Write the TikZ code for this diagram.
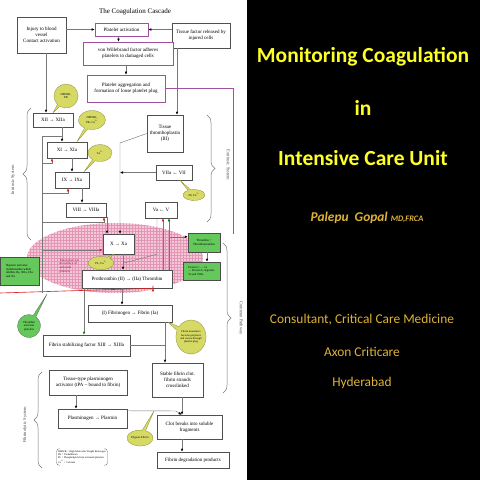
\documentclass[tikz,border=0pt]{standalone}
\usepackage{fontspec}
\setmainfont{Liberation Serif}
\newfontfamily\calib{Carlito}
\usetikzlibrary{shapes.callouts,shapes.geometric,arrows.meta,calc,decorations.pathreplacing}
\definecolor{boxline}{RGB}{80,80,80}
\definecolor{purp}{RGB}{160,80,160}
\definecolor{callfill}{RGB}{214,218,100}
\definecolor{callline}{RGB}{140,140,60}
\definecolor{grnfill}{RGB}{100,200,90}
\definecolor{pinkfill}{RGB}{245,200,215}
\definecolor{pinkgrid}{RGB}{228,150,182}
\definecolor{titleyel}{RGB}{255,255,40}
\definecolor{gold}{RGB}{222,178,58}
\definecolor{linegray}{RGB}{120,120,120}
\definecolor{redmark}{RGB}{220,30,30}
\definecolor{pinktext}{RGB}{140,30,60}
\newcommand{\caion}{Ca\textsuperscript{2+}}
\begin{document}
\begin{tikzpicture}[x=1pt,y=-1pt,
 cbox/.style={draw=boxline, line width=0.5pt, fill=white, inner sep=0.5pt, align=center, font=\fontsize{5}{5.8}\selectfont},
 pbox/.style={cbox, draw=purp, line width=0.7pt},
 gbox/.style={cbox, fill=grnfill, draw=black!70, align=left, font=\fontsize{3.1}{3.7}\selectfont},
 call/.style={ellipse callout, fill=callfill, draw=callline, line width=0.3pt, inner sep=0pt, align=center, font=\fontsize{3}{3.5}\selectfont},
 conn/.style={draw=linegray, line width=0.45pt},
 arr/.style={conn, -{Latex[length=3pt,width=2.6pt,color=black]}},
 redarr/.style={conn, -{Latex[length=3pt,width=2.6pt,color=redmark]}},
 grnarr/.style={conn, -{Latex[length=3pt,width=2.6pt,color=green!50!black]}},
 bracestyle/.style={draw=linegray, line width=0.5pt, decorate, decoration={brace, amplitude=8pt}},
 sysl/.style={font=\fontsize{4.5}{5}\selectfont, text=black!70},
 ]
\useasboundingbox (0,0) rectangle (480,480);
\fill[white] (0,0) rectangle (480,480);
\fill[black] (247,0) rectangle (480,480);

% pink platelet surface
\begin{scope}
\clip (115,258) ellipse [x radius=88, y radius=35];
\fill[pinkfill] (26,222) rectangle (204,294);
\draw[pinkgrid, line width=0.25pt, step=3pt] (24,220) grid (206,296);
\end{scope}

\node[font=\fontsize{7}{8}\selectfont] (title) at (135,12) {The Coagulation Cascade};

% boxes
\node[cbox, minimum width=49pt, minimum height=36pt] (inj) at (41.5,35) {Injury to blood\\vessel\\Contact activation};
\node[pbox, minimum width=53pt, minimum height=13pt] (plt) at (121.5,29.5) {Platelet activation};
\node[cbox, minimum width=58pt, minimum height=25pt] (tf) at (201,35.5) {Tissue factor released by\\injured cells};
\node[pbox, minimum width=90pt, minimum height=23pt] (vwf) at (128,53.5) {von Willebrand factor adheres\\platelets to damaged cells};
\node[pbox, minimum width=78pt, minimum height=27pt] (agg) at (126,88.5) {Platelet aggregation and\\formation of loose platelet plug};
\node[cbox, minimum width=36pt, minimum height=37pt] (tt) at (165,133.5) {Tissue\\thromboplastin\\(III)};
\node[cbox, minimum width=40pt, minimum height=14pt] (xii) at (53,120) {XII → XIIa};
\node[cbox, minimum width=40pt, minimum height=16pt] (xi) at (67,150) {XI → XIa};
\node[cbox, minimum width=34pt, minimum height=16pt] (ix) at (72,180) {IX → IXa};
\node[cbox, minimum width=40pt, minimum height=14pt] (viii) at (86,210) {VIII → VIIIa};
\node[cbox, minimum width=36pt, minimum height=15pt] (viia) at (174,172.5) {VIIa ← VII};
\node[cbox, minimum width=32pt, minimum height=16pt] (va) at (161,210) {Va ← V};
\node[cbox, minimum width=31pt, minimum height=20pt] (x) at (118.5,244) {X → Xa};
\node[cbox, minimum width=90pt, minimum height=18pt] (pro) at (127,279) {Prothrombin (II) → (IIa) Thrombin};
\node[cbox, minimum width=84pt, minimum height=17pt] (fib) at (130,313.5) {(I) Fibrinogen → Fibrin (Ia)};
\node[cbox, minimum width=87pt, minimum height=21pt] (xiii) at (86.5,345.5) {Fibrin stabilizing factor XIII → XIIIa};
\node[cbox, minimum width=51pt, minimum height=34pt] (stab) at (177.5,380) {Stable fibrin clot.\\fibrin strands\\crosslinked};
\node[cbox, minimum width=78pt, minimum height=25pt] (tpa) at (88,382.5) {Tissue-type plasminogen\\activator (tPA – bound to fibrin)};
\node[cbox, minimum width=69pt, minimum height=19pt] (plm) at (92.5,418.5) {Plasminogen → Plasmin};
\node[cbox, minimum width=65pt, minimum height=24pt] (cb) at (189.5,427) {Clot breaks into soluble\\fragments};
\node[cbox, minimum width=72pt, minimum height=16pt] (fdp) at (193,460) {Fibrin degradation products};
\node[gbox, minimum width=39pt, minimum height=28pt] (hep) at (19.5,271) {Heparin activates\\Antithrombin which\\inhibits IIa, XIIa, IXa\\and Xa};
\node[gbox, align=center, minimum width=32pt, minimum height=19pt] (tm) at (204,242.5) {Thrombin +\\Thrombomodulin};
\node[gbox, minimum width=37pt, minimum height=18pt, font=\fontsize{2.9}{3.5}\selectfont] (pc) at (201.5,271) {Protein C → Ca\\→ Protein S, degrades\\Va and VIIIa};

\node[align=left, text=pinktext, font=\fontsize{3.2}{3.8}\selectfont] (surf) at (69,266) {Takes place on\\the surface of\\activated\\platelets};

% connectors
\draw[arr] ($(inj.south)+(4.5,0)$) coordinate (p1) -- (p1 |- xii.north);
\draw[arr] (inj.east |- plt.west) -- (plt.west);
\draw[arr] (tf.west |- plt.east) -- (plt.east);
\draw[arr] ($(plt.south)+(-3,0)$) coordinate (p2) -- (p2 |- vwf.north);
\draw[arr] ($(vwf.south)+(-2,0)$) coordinate (p3) -- (p3 |- agg.north);
\draw[conn, draw=purp] (agg.east) -- (233,88.5) coordinate (pa) -- (pa |- x.north);
\draw[arr] ($(tf.south)+(-24,0)$) coordinate (p4) -- (p4 |- tt.north);
\draw[arr] (tt.west) -- (120,143) coordinate (tl) -- (tl |- x.north);
\draw[arr] (viia.west) -- (viia.west -| tl);
\draw[arr] ($(xii.south)+(9,0)$) coordinate (p5) -- (p5 |- xi.north);
\draw[arr] ($(xi.south)+(5,0)$) coordinate (p6) -- (p6 |- ix.north);
\draw[arr] ($(ix.south)+(10,0)$) coordinate (p7) -- (p7 |- viii.north);
\draw[arr] ($(viii.south)+(21,0)$) coordinate (p8) -- (p8 |- x.north);
\draw[arr] ($(x.south)+(4.5,0)$) coordinate (p9) -- (p9 |- pro.north);
\draw[conn] ($(va.south)+(-4,0)$) -- ++(0,36) -- ($(p9)+(0,9)$);
\draw[redarr] ($(pro.north)+(36,0)$) coordinate (p10) -- (p10 |- va.south);
\draw[grnarr] ($(pro.north)+(42,0)$) coordinate (p12) -- (p12 |- va.south);
\draw[arr] ($(p12)+(0,-33)$) coordinate (p11) -- (p11 -| tm.west);
\draw[arr] ($(tm.south)+(3,0)$) coordinate (p13) -- (p13 |- pc.north);
\draw[arr] ($(pro.south)+(-5,0)$) coordinate (p14) -- (p14 |- fib.north);
\draw[grnarr] ($(pro.south)+(-43,0)$) coordinate (p15) -- (p15 |- xiii.north);
\draw[arr] ($(fib.south)+(35,0)$) coordinate (p16) -- (p16 |- stab.north);
\draw[conn] (xiii.east) -- (xiii.east -| p16);
\draw[arr] ($(stab.south)+(4.5,0)$) coordinate (p17) -- (p17 |- cb.north);
\draw[arr] ($(tpa.south)+(-12,0)$) coordinate (p18) -- (p18 |- plm.north);
\draw[arr] ($(plm.north east)+(0,2)$) coordinate (p20) -- (176,411) coordinate (p21) -- ($(cb.north)+(-8,0)$);
\draw[arr] ($(cb.south)+(-7.5,0)$) coordinate (p19) -- (p19 |- fdp.north);
\coordinate (dig) at ($(p20)!0.55!(p21)$);

% inhibition network
\coordinate (r0) at (0,293);
\draw[redarr, draw=redmark, line width=0.6pt] (r0) -- ($(pro.south)+(26,0)$ |- r0) coordinate (r1) -- ($(pro.south)+(26,0)$);
\coordinate (t0) at (42,293);
\draw[conn] (t0) -- (42,136) -- (p5 |- 0,136);
\draw[redarr] (42,163) -| ($(xi.south)+(-15,0)$);
\draw[redarr] (42,193) -| ($(ix.south)+(-4,0)$);
\draw[redarr] (42,222) -| ($(viii.south)+(18,0)$);
\draw[redarr] (42,250) -- (x.west |- 0,250);

% callouts
\node[call, minimum width=24pt, minimum height=24pt, callout absolute pointer={(xii.north)}] (c1) at (66,96) {HMWK,\\PK};
\node[call, minimum width=27pt, minimum height=19pt, callout absolute pointer={($(xi.north)+(10,0)$)}] (c2) at (92,120) {HMWK,\\PK, \caion};
\node[call, minimum width=24pt, minimum height=17pt, callout absolute pointer={($(ix.north)+(12,0)$)}] (c3) at (100,153) {\caion};
\node[call, minimum width=26pt, minimum height=13pt, callout absolute pointer={($(x.south)+(-5,0)$)}] (c4) at (101,263) {PL, \caion};
\node[call, minimum width=22pt, minimum height=11pt, callout absolute pointer={($(viia.south)+(6,0)$)}] (c5) at (194,195) {III, \caion};
\node[call, minimum width=29pt, minimum height=34pt, font=\fontsize{2.8}{3.3}\selectfont, callout absolute pointer={($(fib.south east)+(-4,0)$)}] (c6) at (191,337) {Fibrin monomers\\become polymers\\and weave through\\platelet plug};
\node[call, minimum width=26pt, minimum height=16pt, callout absolute pointer={(dig)}] (c7) at (140,438) {Digests Fibrin};
\node[call, fill=grnfill, draw=black!60, minimum width=23pt, minimum height=23pt, callout absolute pointer={($(t0)+(5,1)$)}] (c8) at (29,326) {Thrombin\\activates\\platelets};

% legend
\node[align=left, font=\fontsize{2.6}{3.4}\selectfont, inner sep=1.5pt] (leg) at (82,457) {HMWK = High Molecular Weight Kininogen\\PK = Prekallikrein\\PL = Phospholipids from activated platelets\\\caion{} = Calcium};
\draw[linegray, line width=0.4pt, rounded corners=3pt] ($(leg.north west)+(3,0)$) -- (leg.north west) -- (leg.south west) -- ($(leg.south west)+(3,0)$);
\draw[linegray, line width=0.4pt, rounded corners=3pt] ($(leg.north east)+(-3,0)$) -- (leg.north east) -- (leg.south east) -- ($(leg.south east)+(-3,0)$);

% braces
\draw[bracestyle] (31,240) -- (31,108);
\node[sysl, rotate=90] (ins) at (13,180) {Intrinsic System};
\draw[bracestyle] (207,115) -- (207,222);
\node[sysl, rotate=-90] (exs) at (228,165) {Extrinsic System};
\draw[bracestyle] (223,243) -- (223,393);
\node[sysl, rotate=-90] (cps) at (241,318) {Common Pathway};
\draw[bracestyle] (42,468) -- (42,372);
\node[sysl, rotate=90] (fbs) at (25,425) {Fibrinolytic System};

% right panel
\node[font=\calib\bfseries\fontsize{21.5}{25}\selectfont, text=titleyel] (t1) at (363,57) {Monitoring Coagulation};
\node[font=\calib\bfseries\fontsize{21.5}{25}\selectfont, text=titleyel] (t2) at (363,108) {in};
\node[font=\calib\bfseries\fontsize{21.5}{25}\selectfont, text=titleyel] (t3) at (363,158) {Intensive Care Unit};
\node[font=\calib\bfseries\itshape\fontsize{13.4}{15}\selectfont, text=gold] (pg) at (367,218) {Palepu\ \ Gopal {\fontsize{8.4}{10}\selectfont MD,FRCA}};
\node[font=\calib\fontsize{13.4}{15}\selectfont, text=gold] (r1t) at (362,320) {Consultant, Critical Care Medicine};
\node[font=\calib\fontsize{13.4}{15}\selectfont, text=gold] (r2t) at (362,352) {Axon Criticare};
\node[font=\calib\fontsize{13.4}{15}\selectfont, text=gold] (r3t) at (362,383) {Hyderabad};
\end{tikzpicture}
\end{document}
